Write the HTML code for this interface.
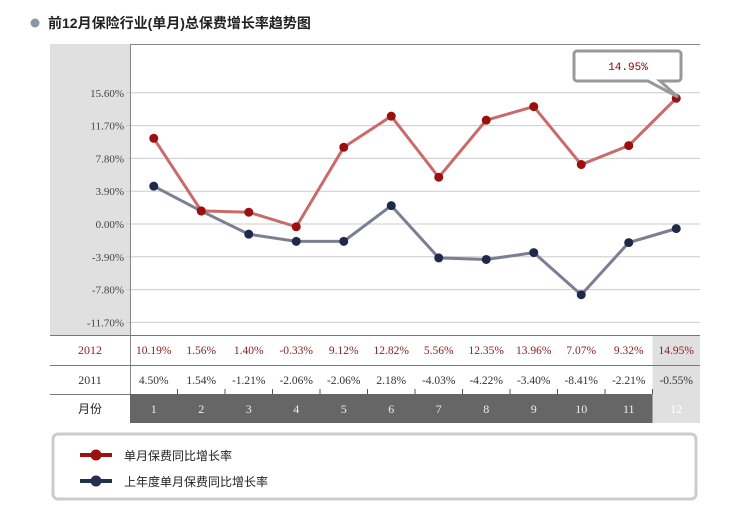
<!DOCTYPE html>
<html><head><meta charset="utf-8"><style>
body{margin:0;background:#fff;font-family:"Liberation Serif","Noto Serif CJK SC",serif;}
#wrap{position:relative;width:736px;height:519px;overflow:hidden;}
</style></head><body>
<div id="wrap">
<svg id="svg" width="736" height="519" xmlns="http://www.w3.org/2000/svg">
<circle cx="35" cy="23" r="4.5" fill="#8a96a3"/>
<text x="48" y="28" font-size="14" font-weight="bold" fill="#222" font-family="Liberation Sans,Noto Sans CJK SC,sans-serif">前12月保险行业(单月)总保费增长率趋势图</text>
<rect x="50" y="44" width="80" height="291" fill="#e0e0e0"/>
<line x1="130" y1="44.5" x2="700" y2="44.5" stroke="#888"/>
<g id="grid"></g>
<g id="rows"></g>
<g id="series"></g>
<g>
<path d="M577,51 h101 a3,3 0 0 1 3,3 v24 a3,3 0 0 1 -3,3 h-18 l18,16 l-30,-16 h-71 a3,3 0 0 1 -3,-3 v-24 a3,3 0 0 1 3,-3 z" fill="#fff" stroke="#999" stroke-width="3"/>
<text x="628" y="70" font-size="11" fill="#8b0000" text-anchor="middle" font-family="Liberation Mono,monospace">14.95%</text>
</g>
<rect x="53" y="434" width="643" height="65" rx="5" fill="#fff" stroke="#ccc" stroke-width="3"/>
<g>
<line x1="80" y1="455" x2="112" y2="455" stroke="#9b1010" stroke-width="4"/>
<circle cx="96" cy="455" r="5.5" fill="#9b1010"/>
<text x="124" y="460" font-size="12" fill="#222" font-family="Liberation Sans,Noto Sans CJK SC,sans-serif">单月保费同比增长率</text></g>
<g>
<line x1="80" y1="481" x2="112" y2="481" stroke="#24304f" stroke-width="4"/>
<circle cx="96" cy="481" r="5.5" fill="#24304f"/>
<text x="124" y="486" font-size="12" fill="#222" font-family="Liberation Sans,Noto Sans CJK SC,sans-serif">上年度单月保费同比增长率</text></g>
</svg>
</div>
<script>
const months=["1","2","3","4","5","6","7","8","9","10","11","12"];
const s2012=[10.19,1.56,1.40,-0.33,9.12,12.82,5.56,12.35,13.96,7.07,9.32,14.95];
const s2011=[4.50,1.54,-1.21,-2.06,-2.06,2.18,-4.03,-4.22,-3.40,-8.41,-2.21,-0.55];
const ticks=[15.6,11.7,7.8,3.9,0,-3.9,-7.8,-11.7];
const NS="http://www.w3.org/2000/svg";
const X0=130,X1=700,CW=(X1-X0)/12;
function x(i){return X0+CW*(i+0.5);}
function y(v){return 224-v*(32.8/3.9);}
function mk(t,a,p){const e=document.createElementNS(NS,t);for(const k in a)e.setAttribute(k,a[k]);p.appendChild(e);return e;}
const grid=document.getElementById('grid');
ticks.forEach(t=>{
 const l=mk('line',{x1:X0-4,x2:X1,y1:y(t),y2:y(t),stroke:'#ccc'},grid);
 
 
 const tx=mk('text',{x:X0-6,y:y(t)+4,'font-size':11,fill:'#444','text-anchor':'end'},grid);
 
 
 tx.textContent=t.toFixed(2)+'%';
});
mk('line',{x1:X0+.5,x2:X0+.5,y1:44,y2:394,stroke:'#888'},grid);
const rows=document.getElementById('rows');
const hl=mk('rect',{x:X0+CW*11,y:335,width:CW,height:88,fill:'#e0e0e0'},rows);


const mr=mk('rect',{x:X0,y:394,width:CW*11,height:29,fill:'#666'},rows);


mk('line',{x1:50,x2:X1,y1:335.5,y2:335.5,stroke:'#777'},rows);
mk('line',{x1:50,x2:X1,y1:365.5,y2:365.5,stroke:'#777'},rows);
mk('line',{x1:50,x2:X0,y1:394.5,y2:394.5,stroke:'#777'},rows);
[['2012',350,'#8b2020','Liberation Serif,serif'],['2011',380,'#333','Liberation Serif,serif'],['月份',409,'#222','Liberation Sans,Noto Sans CJK SC,sans-serif']].forEach(r=>{
 const t=mk('text',{x:90,y:r[1]+4,'font-size':12,fill:r[2],'text-anchor':'middle','font-family':r[3]},rows);
 
 
 t.textContent=r[0];
});
months.forEach((m,i)=>{
 if(i>0)mk('line',{x1:X0+CW*i,x2:X0+CW*i,y1:389,y2:394,stroke:'#555'},rows);
 const a=mk('text',{x:x(i),y:354,'font-size':11.5,fill:'#8b2020','text-anchor':'middle'},rows);
 
 
 a.textContent=s2012[i].toFixed(2)+'%';
 const b=mk('text',{x:x(i),y:384,'font-size':11.5,fill:'#333','text-anchor':'middle'},rows);
 
 
 b.textContent=s2011[i].toFixed(2)+'%';
 const c=mk('text',{x:x(i),y:413,'font-size':12,fill:i==11?'#fff':'#eee','text-anchor':'middle'},rows);
 
 
 c.textContent=m;
});
const sg=document.getElementById('series');
[[s2011,'#7a7f93','#1f2a4a','series-2011'],[s2012,'#c96b6b','#9b0f0f','series-2012']].forEach(s=>{
 const p=mk('polyline',{points:s[0].map((v,i)=>x(i)+','+y(v)).join(' '),fill:'none',stroke:s[1],'stroke-width':3},sg);
 
 
 s[0].forEach((v,i)=>{
  const c=mk('circle',{cx:x(i),cy:y(v),r:4.5,fill:s[2]},sg);
  
  
 });
});
</script>
</body></html>
